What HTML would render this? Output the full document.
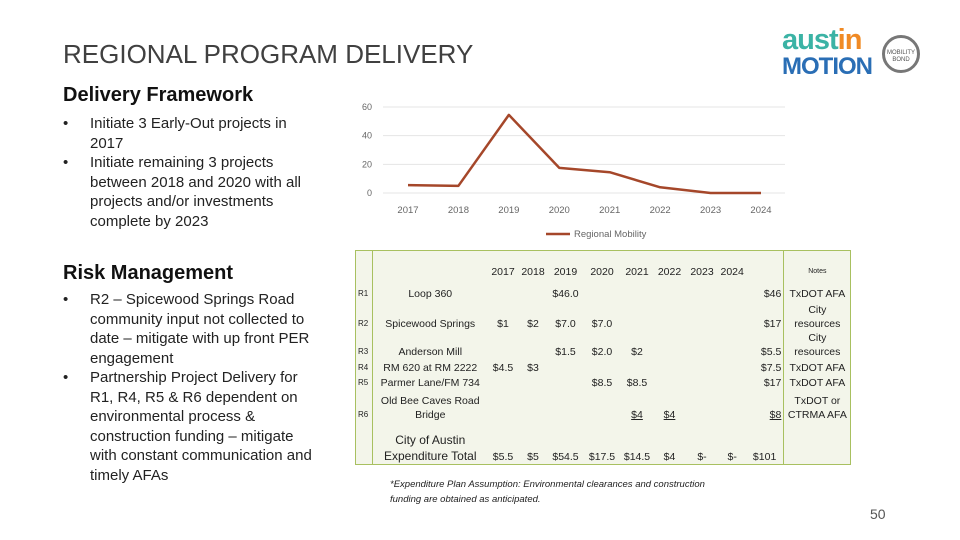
<!DOCTYPE html>
<html><head><meta charset="utf-8"><style>
body{margin:0;width:960px;height:540px;background:#fff;font-family:"Liberation Sans",sans-serif;position:relative;overflow:hidden;color:#222}
.abs{position:absolute}
h1{position:absolute;left:63px;top:39px;margin:0;font-weight:normal;font-size:26px;color:#404040;letter-spacing:0}
.h2{position:absolute;left:63px;font-size:20px;color:#111;font-weight:bold}
ul{position:absolute;margin:0;padding:0;list-style:none;font-size:15px;line-height:19.5px;color:#222}
li{position:relative;padding-left:27px}
li:before{content:"•";position:absolute;left:0}
table{position:absolute;left:355px;top:250px;border-collapse:collapse;background:#f3f5ea;font-size:10.5px;border:1px solid #a8c060;table-layout:fixed}
td{padding:0 2px;text-align:center;vertical-align:bottom;white-space:nowrap;line-height:14px;color:#222}
td.r{font-size:8px;text-align:left;padding-left:2px}
td.rt{text-align:right}
td.n{border-left:1px solid #a8c060;white-space:normal}
td.c{border-right:1px solid #a8c060}
u{text-decoration:underline}
</style></head><body>
<h1>REGIONAL PROGRAM DELIVERY</h1>
<div class="h2" style="top:84px">Delivery Framework</div>
<ul style="left:63px;top:114px;width:258px">
<li>Initiate 3 Early-Out projects in 2017</li>
<li>Initiate remaining 3 projects between 2018 and 2020 with all projects and/or investments complete by 2023</li>
</ul>
<div class="h2" style="top:262px">Risk Management</div>
<ul style="left:63px;top:290px;width:258px">
<li>R2 – Spicewood Springs Road community input not collected to date – mitigate with up front PER engagement</li>
<li>Partnership Project Delivery for R1, R4, R5 &amp; R6 dependent on environmental process &amp; construction funding – mitigate with constant communication and timely AFAs</li>
</ul>
<div class="abs" style="left:782px;top:28px;font-weight:bold;font-size:29px;line-height:25px;letter-spacing:-1px"><span style="color:#3bb3a5">aust</span><span style="color:#f08a24">in</span><br><span style="color:#2a6eb5;font-size:24px">MOTION</span></div>
<div class="abs" style="left:882px;top:35px;width:38px;height:38px;border-radius:50%;border:3px solid #777;box-sizing:border-box;font-size:6px;text-align:center;color:#555;line-height:7px;padding-top:12px">MOBILITY<br>BOND</div>

<svg class="abs" style="left:340px;top:95px" width="460" height="150">
<g id="grid"></g><g id="ticks"></g><path id="line" fill="none" stroke="#a5472a" stroke-width="2.5" stroke-linejoin="round"/>
<line x1="206" y1="139" x2="230" y2="139" stroke="#a5472a" stroke-width="2.5"/>
<text x="234" y="142" font-size="9.5" fill="#666">Regional Mobility</text>
</svg>
<script>
const years=["2017","2018","2019","2020","2021","2022","2023","2024"];
const values=[5.5,5,54.5,17.5,14.5,4,0,0];
const yTicks=[0,20,40,60];
const xS=i=>68+i*(421-68)/(years.length-1);
const yS=v=>98-v*(86/60);
const NS="http://www.w3.org/2000/svg";
const g=document.getElementById('grid'),t=document.getElementById('ticks');
yTicks.forEach(v=>{const l=document.createElementNS(NS,'line');l.setAttribute('x1',43);l.setAttribute('x2',445);l.setAttribute('y1',yS(v));l.setAttribute('y2',yS(v));l.setAttribute('stroke','#e4e4e4');

g.appendChild(l);
const tx=document.createElementNS(NS,'text');tx.setAttribute('x',32);tx.setAttribute('y',yS(v)+3);tx.setAttribute('text-anchor','end');tx.setAttribute('font-size','9');tx.setAttribute('fill','#666');tx.textContent=v;

t.appendChild(tx);});
years.forEach((y,i)=>{const tx=document.createElementNS(NS,'text');tx.setAttribute('x',xS(i));tx.setAttribute('y',118);tx.setAttribute('text-anchor','middle');tx.setAttribute('font-size','9.5');tx.setAttribute('fill','#666');tx.textContent=y;

t.appendChild(tx);});
document.getElementById('line').setAttribute('d',values.map((v,i)=>(i?'L':'M')+xS(i)+' '+yS(v)).join(' '));
</script>

<table>
<colgroup><col style="width:17px"><col style="width:115px"><col style="width:31px"><col style="width:29px"><col style="width:36px"><col style="width:37px"><col style="width:33px"><col style="width:32px"><col style="width:33px"><col style="width:27px"><col style="width:38px"><col style="width:67px"></colgroup>
<tr style="height:28px"><td class="c"></td><td></td><td>2017</td><td>2018</td><td>2019</td><td>2020</td><td>2021</td><td>2022</td><td>2023</td><td>2024</td><td></td><td class="n" style="font-size:7px">Notes</td></tr>
<tr style="height:22px"><td class="r c">R1</td><td>Loop 360</td><td></td><td></td><td>$46.0</td><td></td><td></td><td></td><td></td><td></td><td class="rt">$46</td><td class="n">TxDOT AFA</td></tr>
<tr style="height:30px"><td class="r c">R2</td><td>Spicewood Springs</td><td>$1</td><td>$2</td><td>$7.0</td><td>$7.0</td><td></td><td></td><td></td><td></td><td class="rt">$17</td><td class="n">City resources</td></tr>
<tr style="height:27px"><td class="r c">R3</td><td>Anderson Mill</td><td></td><td></td><td>$1.5</td><td>$2.0</td><td>$2</td><td></td><td></td><td></td><td class="rt">$5.5</td><td class="n">City resources</td></tr>
<tr style="height:16px"><td class="r c">R4</td><td>RM 620 at RM 2222</td><td>$4.5</td><td>$3</td><td></td><td></td><td></td><td></td><td></td><td></td><td class="rt">$7.5</td><td class="n">TxDOT AFA</td></tr>
<tr style="height:15px"><td class="r c">R5</td><td>Parmer Lane/FM 734</td><td></td><td></td><td></td><td>$8.5</td><td>$8.5</td><td></td><td></td><td></td><td class="rt">$17</td><td class="n">TxDOT AFA</td></tr>
<tr style="height:32px"><td class="r c">R6</td><td>Old Bee Caves Road<br>Bridge</td><td></td><td></td><td></td><td></td><td><u>$4</u></td><td><u>$4</u></td><td></td><td></td><td class="rt"><u>$8</u></td><td class="n">TxDOT or CTRMA AFA</td></tr>
<tr style="height:43px"><td class="c"></td><td style="font-size:12px;line-height:16px">City of Austin<br>Expenditure Total</td><td>$5.5</td><td>$5</td><td>$54.5</td><td>$17.5</td><td>$14.5</td><td>$4</td><td>$-</td><td>$-</td><td>$101</td><td class="n"></td></tr>
</table>
<div class="abs" style="left:390px;top:477px;font-size:9.5px;font-style:italic;line-height:15px;width:330px">*Expenditure Plan Assumption: Environmental clearances and construction funding are obtained as anticipated.</div>
<div class="abs" style="left:870px;top:506px;font-size:14px;color:#555">50</div>
</body></html>
